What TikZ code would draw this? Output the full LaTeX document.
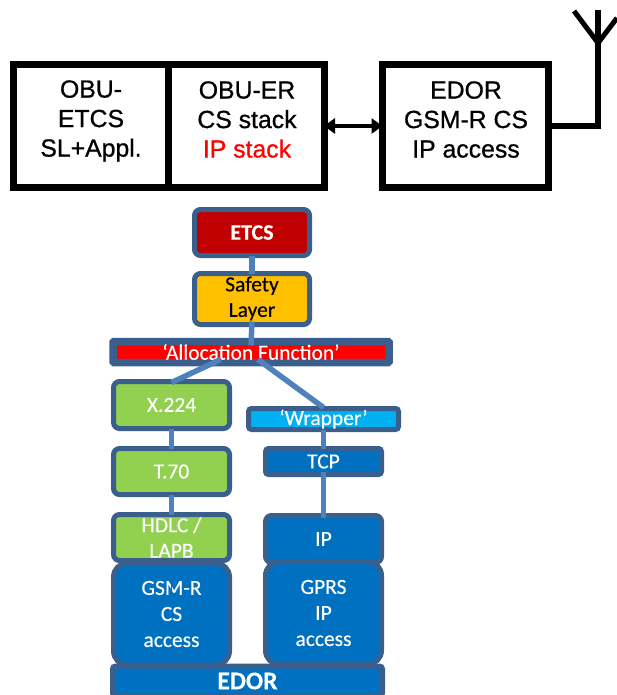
\documentclass[tikz,border=0pt]{standalone}
\usepackage{fontspec}
\setmainfont{Carlito}[FakeBold=0.25]
\newfontfamily\topfont{Liberation Sans}[FakeBold=0.8]
\usetikzlibrary{arrows.meta,calc}
\definecolor{edge}{HTML}{3A5F8D}
\definecolor{link}{HTML}{4F81BD}
\definecolor{etcsred}{HTML}{C00000}
\definecolor{safe}{HTML}{FFC000}
\definecolor{grn}{HTML}{92D050}
\definecolor{blu}{HTML}{0070C0}
\definecolor{cyn}{HTML}{00B0F0}
\tikzset{
  blk/.style={draw=black,line width=7pt,fill=white,inner sep=0pt,outer sep=0pt},
  toptxt/.style={font=\topfont\fontsize{24.8}{29.5}\selectfont,align=center,inner sep=0pt,text=black},
  stack/.style={draw=edge,line width=5pt,rounded corners=6pt,inner sep=0pt,outer sep=0pt,align=center,text=white,
    font=\fontsize{21.5}{25.5}\selectfont},
  conn/.style={draw=link,line width=5.5pt},
  wire/.style={draw=black,line width=6.5pt},
}
\begin{document}
\begin{tikzpicture}[x=1pt,y=-1pt]
\useasboundingbox (0,0) rectangle (617,695);
% top block diagram
\node[blk,minimum width=154.5pt,minimum height=122pt] (obua) at (90.75,126) {};
\node[blk,minimum width=156pt,minimum height=122pt] (obub) at (246,126) {};
\node[blk,minimum width=166pt,minimum height=122pt] (edorb) at (465.5,126) {};
\node[toptxt] (obuat) at (91,121) {OBU-\\ETCS\\SL+Appl.};
\node[toptxt] (obubt) at (247,119.5) {OBU-ER\\CS stack\\\textcolor{red}{IP stack}};
\node[toptxt] (edort) at (466,119.5) {EDOR\\GSM-R CS\\IP access};
\draw[wire,line width=4.5pt,{Triangle[length=11pt,width=15pt]}-{Triangle[length=11pt,width=15pt]}] (obub.east) -- (edorb.west);
\coordinate (anttop) at (598,10);
\coordinate (antjoin) at (598,43);
\coordinate (antl) at (574,11);
\coordinate (antr) at (617,18);
\draw[wire,line width=6.5pt] (edorb.east) -| (anttop);
\draw[wire,line width=5pt] (antl) -- (antjoin) -- (antr);
% connector under the allocation text
\node[stack,fill=etcsred,minimum width=115pt,minimum height=46pt,font=\bfseries\fontsize{22}{25.5}\selectfont] (etcs) at (252,232.5) {ETCS};
\node[stack,fill=safe,text=black,minimum width=115pt,minimum height=47pt] (safety) at (252,299) {\raisebox{-2pt}{\begin{tabular}{@{}c@{}}Safety\\Layer\end{tabular}}};
\node[stack,draw=edge,line width=7.5pt,rounded corners=1pt,fill=red,minimum width=276pt,minimum height=21pt] (alloc) at (251,352) {\raisebox{-1pt}{‘Allocation Function’}};
\node[stack,fill=grn,minimum width=116pt,minimum height=47pt] (x224) at (171.5,405) {\raisebox{-2pt}{X.224}};
\node[stack,fill=grn,minimum width=116pt,minimum height=46pt] (t70) at (171.5,471.5) {T.70};
\node[stack,fill=blu,minimum width=116pt,minimum height=102pt,rounded corners=14pt,align=center,font=\fontsize{21.5}{26}\selectfont] (gsm) at (171.5,614) {GSM-R\\CS\\access};
\node[stack,fill=grn,minimum width=116pt,minimum height=46pt] (hdlc) at (171.5,537.5) {HDLC /\\LAPB};
\node[stack,fill=blu,minimum width=116pt,minimum height=47pt] (ip) at (323.5,539) {IP};
\node[stack,fill=blu,minimum width=116pt,minimum height=103pt,rounded corners=14pt,font=\fontsize{21.5}{26}\selectfont] (gprs) at (323.5,613) {GPRS\\IP\\access};
\node[stack,fill=cyn,minimum width=150pt,minimum height=21pt,rounded corners=3pt] (wrap) at (323.5,419) {\raisebox{-2.5pt}{‘Wrapper’}};
\node[stack,fill=blu,minimum width=116pt,minimum height=26pt,rounded corners=3pt] (tcp) at (323.5,461.5) {TCP};
\node[stack,fill=blu,minimum width=270pt,minimum height=30pt,rounded corners=3pt,font=\bfseries\fontsize{25.5}{26}\selectfont] (edor) at (247.5,681) {EDOR};
% connectors
\draw[conn] (etcs.south) -- (safety.north);
\draw[conn] ($(safety.south)+(0,-3)$) -- ($(alloc.north)+(0,4)$);
\draw[conn] ($(alloc.south west)!0.39!(alloc.south east)+(0,-3)$) -- ($(x224.north)+(0,1)$);
\draw[conn] ($(alloc.south west)!0.525!(alloc.south east)+(0,-3)$) -- ($(wrap.north)+(0,-1)$);
\draw[conn] (x224.south) -- (t70.north);
\draw[conn] (t70.south) -- (hdlc.north);
\draw[conn] (wrap.south) -- (tcp.north);
\draw[conn] ($(tcp.south)+(0,-3)$) -- ($(ip.north)+(0,2)$);
\draw[draw=edge,line width=.8pt] (hdlc.south) -- ($(gsm.north)+(0,28)$);
\end{tikzpicture}
\end{document}
